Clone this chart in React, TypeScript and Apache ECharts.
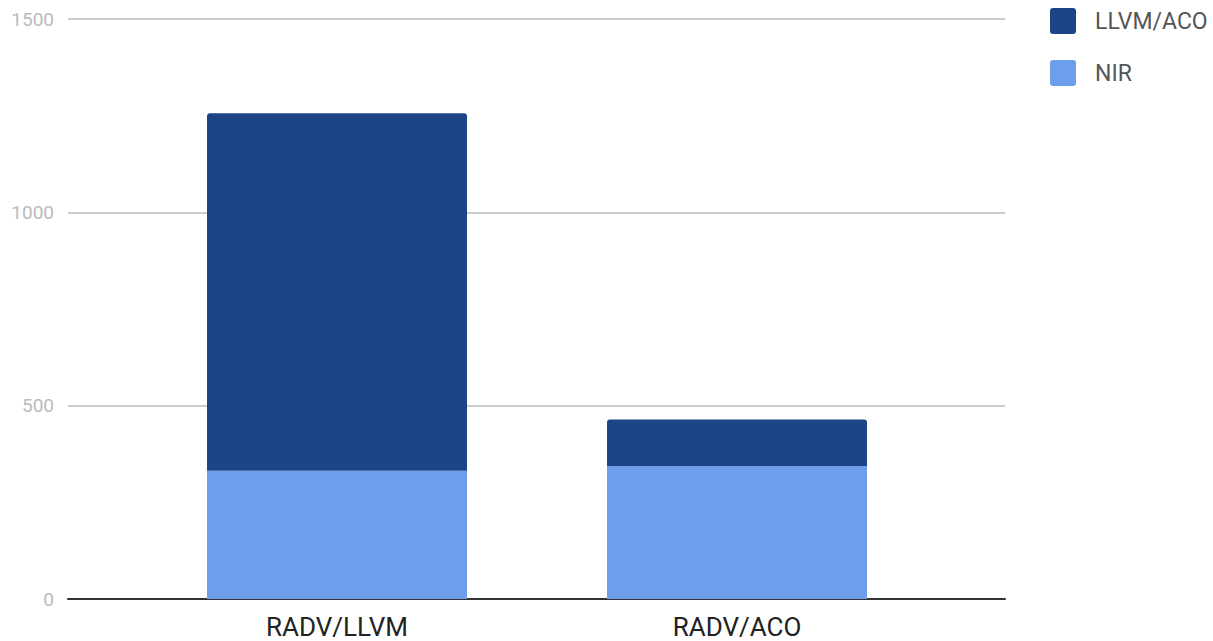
import React, { useEffect, useRef } from "react";
import * as echarts from "echarts";

const categories = ["RADV/LLVM", "RADV/ACO"];
const nirValues = [332, 343];
const backendValues = [924, 121];
const seriesNames = ["LLVM/ACO", "NIR"];
const yTicks = { min: 0, max: 1500, interval: 500 };

export default function App() {
  const ref = useRef<HTMLDivElement>(null);
  useEffect(() => {
    if (!ref.current) return;
    const chart = echarts.init(ref.current, undefined, { renderer: "svg" });
    const font = "Roboto, 'Noto Sans', sans-serif";
    chart.setOption({
      animation: false,
      backgroundColor: "#ffffff",
      textStyle: { fontFamily: font },
      legend: {
        data: seriesNames,
        orient: "vertical",
        left: 1050,
        top: 8,
        padding: 0,
        itemWidth: 26,
        itemHeight: 26,
        itemGap: 26,
        icon: "path://M3,0 H23 Q26,0 26,3 V23 Q26,26 23,26 H3 Q0,26 0,23 V3 Q0,0 3,0 Z",
        textStyle: { color: "#555555", fontSize: 23, fontFamily: font, padding: [0, 0, 0, 14] },
      },
      grid: [
        { left: 68, right: 208, top: 19, bottom: 42 },
        { left: 137, width: 800, top: 19, bottom: 42 },
      ],
      xAxis: [
        {
          gridIndex: 0,
          type: "value",
          min: 0,
          max: 1,
          axisLine: { show: true, lineStyle: { color: "#333333", width: 2 } },
          axisTick: { show: false },
          axisLabel: { show: false },
          splitLine: { show: false },
        },
        {
          gridIndex: 1,
          type: "category",
          data: categories,
          axisLine: { show: false },
          axisTick: { show: false },
          axisLabel: { color: "#222222", fontSize: 26, margin: 15, fontFamily: font },
        },
      ],
      yAxis: [
        {
          gridIndex: 0,
          type: "value",
          min: yTicks.min,
          max: yTicks.max,
          interval: yTicks.interval,
          axisLine: { show: false },
          axisTick: { show: false },
          axisLabel: {
            color: "#bbbbbb",
            fontSize: 19,
            margin: 14,
            fontFamily: font,
            formatter: (v: number) => String(v),
          },
          splitLine: { show: true, lineStyle: { color: "#cccccc", width: 2 } },
        },
        {
          gridIndex: 1,
          type: "value",
          min: yTicks.min,
          max: yTicks.max,
          interval: yTicks.interval,
          show: false,
          splitLine: { show: false },
        },
      ],
      series: [
        {
          name: seriesNames[1],
          type: "bar",
          stack: "total",
          xAxisIndex: 1,
          yAxisIndex: 1,
          barWidth: 260,
          data: nirValues,
          itemStyle: { color: "#6d9eeb" },
          z: 3,
        },
        {
          name: seriesNames[0],
          type: "bar",
          stack: "total",
          xAxisIndex: 1,
          yAxisIndex: 1,
          barWidth: 260,
          data: backendValues,
          itemStyle: { color: "#1c4587", borderRadius: [3, 3, 0, 0] },
          z: 3,
        },
      ],
    });
    return () => chart.dispose();
  }, []);
  return (
    <div
      ref={ref}
      style={{ position: "fixed", left: 0, top: 0, width: 1213, height: 641, background: "#fff" }}
    />
  );
}
